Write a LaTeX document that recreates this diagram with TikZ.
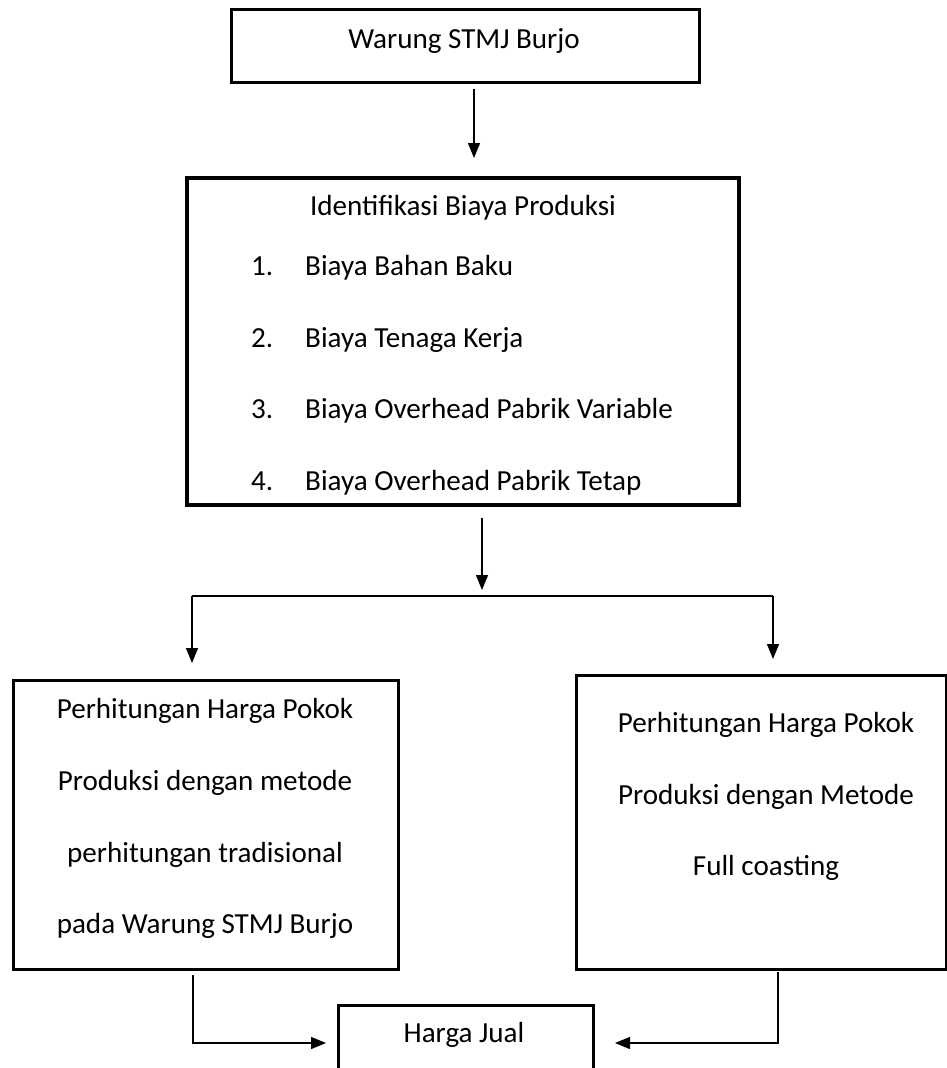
\documentclass[tikz,border=0pt]{standalone}
\usepackage{fontspec}
\setmainfont{Carlito}
\usetikzlibrary{arrows.meta}
\begin{document}
\begin{tikzpicture}[x=1bp,y=-1bp,
  box/.style={draw, line width=2.5bp, rectangle, inner sep=0pt, anchor=north west},
  txt/.style={anchor=base, inner sep=0pt, font=\fontsize{29.2}{34}\selectfont},
  ltxt/.style={txt, anchor=base west},
  conn/.style={line width=1.3bp},
  arr/.style={conn, -{Triangle[width=12bp,length=15bp]}}]
\useasboundingbox (0,0) rectangle (947,1068);
\clip (0,0) rectangle (947,1068);
% boxes
\node[box, minimum width=468bp, minimum height=73bp] (b1) at (230,8) {};
\node[box, minimum width=551bp, minimum height=326bp] (b2) at (186,177) {};
\node[box, minimum width=385bp, minimum height=289bp] (bl) at (12,679) {};
\node[box, minimum width=370bp, minimum height=294bp] (br) at (575,674) {};
\node[box, minimum width=255bp, minimum height=90bp] (bh) at (337,1004) {};
% texts
\node[txt] (t1) at (464,48) {Warung STMJ Burjo};
\begin{scope}
\clip (186,177) rectangle (737,503);
\node[txt] (t2) at (463,215) {Identifikasi Biaya Produksi};
\node[ltxt] (n1) at (251,275) {1.};
\node[ltxt] (i1) at (305,275) {Biaya Bahan Baku};
\node[ltxt] (n2) at (251,347) {2.};
\node[ltxt] (i2) at (305,347) {Biaya Tenaga Kerja};
\node[ltxt] (n3) at (251,418) {3.};
\node[ltxt] (i3) at (305,418) {Biaya Overhead Pabrik Variable};
\node[ltxt] (n4) at (251,490) {4.};
\node[ltxt] (i4) at (305,490) {Biaya Overhead Pabrik Tetap};
\end{scope}
\draw[line width=2.5bp] (b2.north west) rectangle (b2.south east);
\node[txt] (l1) at (205,718) {Perhitungan Harga Pokok};
\node[txt] (l2) at (205,790) {Produksi dengan metode};
\node[txt] (l3) at (205,862) {perhitungan tradisional};
\node[txt] (l4) at (205,933) {pada Warung STMJ Burjo};
\node[txt] (r1) at (766,732) {Perhitungan Harga Pokok};
\node[txt] (r2) at (766,804) {Produksi dengan Metode};
\node[txt] (r3) at (766,875) {Full coasting};
\node[txt] (h1) at (464,1042) {Harga Jual};
% connector points
\coordinate (a1s) at (474,89);
\coordinate (a1e) at (474,158);
\coordinate (a2s) at (482,518);
\coordinate (a2e) at (482,590);
\coordinate (jl) at (192,596);
\coordinate (jr) at (773,596);
\coordinate (ale) at (192,663);
\coordinate (are) at (773,659);
\coordinate (ls) at (193,975);
\coordinate (lc) at (193,1043);
\coordinate (le) at (326,1043);
\coordinate (rs) at (778,972);
\coordinate (rc) at (778,1043);
\coordinate (re) at (615,1043);
\draw[arr] (a1s) -- (a1e);
\draw[arr] (a2s) -- (a2e);
\draw[conn] (jl) -- (jr);
\draw[arr] (jl) -- (ale);
\draw[arr] (jr) -- (are);
\draw[arr] (ls) -- (lc) -- (le);
\draw[arr] (rs) -- (rc) -- (re);
\end{tikzpicture}
\end{document}
